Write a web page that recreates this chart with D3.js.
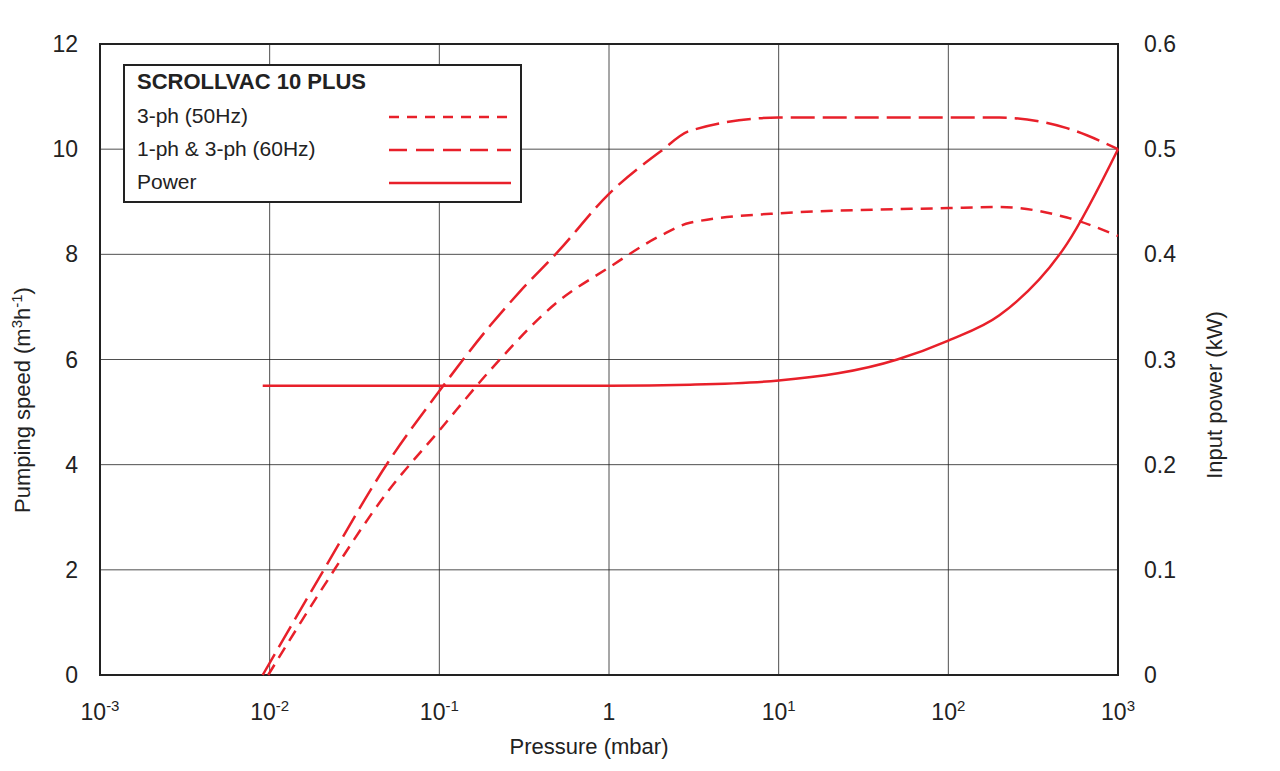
<!DOCTYPE html>
<html><head><meta charset="utf-8">
<script src="https://cdn.jsdelivr.net/npm/d3@7"></script>
<style>body{margin:0;background:#fff}text{font-family:"Liberation Sans",Arial,sans-serif;fill:#222}</style>
</head><body><svg id="c" width="1280" height="771"></svg>
<script>
const xTicks=[1e-3,1e-2,1e-1,1,10,100,1000];
const xTickLabels=[["10","-3"],["10","-2"],["10","-1"],["1",""],["10","1"],["10","2"],["10","3"]];
const yLeftTicks=[0,2,4,6,8,10,12];
const yRightTicks=[0,0.1,0.2,0.3,0.4,0.5,0.6];
const p60=[0.0091,0.02,0.05,0.1,0.2,0.3,0.5,1,2,3,10,100,200,500,1000];
const s60=[0,1.9,4.05,5.4,6.65,7.3,8.05,9.15,9.95,10.35,10.6,10.6,10.6,10.4,10.0];
const p50=[0.0098,0.02,0.05,0.1,0.2,0.5,1,2,3,10,100,200,500,1000];
const s50=[0,1.6,3.5,4.65,5.8,7.1,7.75,8.35,8.6,8.78,8.88,8.9,8.7,8.35];
const pPow=[0.0091,0.1,1,3,10,50,100,200,500,1000];
const vPow=[0.275,0.275,0.275,0.276,0.28,0.3,0.318,0.342,0.41,0.5];

const svg=d3.select("#c");
const L=100,R=1118,T=44,B=675,red="#e8202a";
const x=d3.scaleLog().domain([1e-3,1e3]).range([L,R]);
const y=d3.scaleLinear().domain([0,12]).range([B,T]);
const y2=d3.scaleLinear().domain([0,0.6]).range([B,T]);
const g=svg.append("g");
xTicks.slice(1,-1).forEach(t=>g.append("line").attr("x1",x(t)).attr("x2",x(t)).attr("y1",T).attr("y2",B).attr("stroke","#222").attr("stroke-width",0.8));
yLeftTicks.slice(1,-1).forEach(t=>g.append("line").attr("x1",L).attr("x2",R).attr("y1",y(t)).attr("y2",y(t)).attr("stroke","#222").attr("stroke-width",0.8));
g.append("rect").attr("x",L).attr("y",T).attr("width",R-L).attr("height",B-T).attr("fill","none").attr("stroke","#222").attr("stroke-width",2);
xTicks.forEach((t,i)=>{const tx=g.append("text").attr("x",x(t)).attr("y",B+45).attr("text-anchor","middle").attr("font-size",23);
 tx.append("tspan").text(xTickLabels[i][0]); if(xTickLabels[i][1]) tx.append("tspan").attr("dy",-9).attr("font-size",15).text(xTickLabels[i][1]);});
yLeftTicks.forEach(t=>g.append("text").attr("x",L-22).attr("y",y(t)+8).attr("text-anchor","end").attr("font-size",23).text(t));
yRightTicks.forEach(t=>g.append("text").attr("x",R+26).attr("y",y2(t)+8).attr("font-size",23).text(t===0?"0":t.toFixed(1)));
g.append("text").attr("x",(L+R)/2-20).attr("y",754).attr("text-anchor","middle").attr("font-size",22).text("Pressure (mbar)");
const yl=g.append("text").attr("transform","translate(30,400) rotate(-90)").attr("text-anchor","middle").attr("font-size",22);
yl.append("tspan").text("Pumping speed (m");yl.append("tspan").attr("dy",-8).attr("font-size",15).text("3");
yl.append("tspan").attr("dy",8).text("h");yl.append("tspan").attr("dy",-8).attr("font-size",15).text("-1");yl.append("tspan").attr("dy",8).text(")");
g.append("text").attr("transform","translate(1222,395) rotate(-90)").attr("text-anchor","middle").attr("font-size",22).text("Input power (kW)");
const line=(xs,ys,sc)=>d3.line().x(d=>x(d[0])).y(d=>sc(d[1])).curve(d3.curveMonotoneX)(xs.map((v,i)=>[v,ys[i]]));
g.append("path").attr("d",line(p60,s60,y)).attr("fill","none").attr("stroke",red).attr("stroke-width",2.5).attr("stroke-dasharray","24,8");
g.append("path").attr("d",line(p50,s50,y)).attr("fill","none").attr("stroke",red).attr("stroke-width",2.5).attr("stroke-dasharray","12,8");
g.append("path").attr("d",line(pPow,vPow,y2)).attr("fill","none").attr("stroke",red).attr("stroke-width",2.5);
const lg=g.append("g");
lg.append("rect").attr("x",124).attr("y",65).attr("width",397).attr("height",137).attr("fill","#fff").attr("stroke","#222").attr("stroke-width",2);
lg.append("text").attr("x",137).attr("y",89).attr("font-size",22).attr("font-weight","bold").text("SCROLLVAC 10 PLUS");
[["3-ph (50Hz)","10,8"],["1-ph & 3-ph (60Hz)","18,9"],["Power",null]].forEach((d,i)=>{
 const yy=123+i*33;
 lg.append("text").attr("x",137).attr("y",yy).attr("font-size",21).text(d[0]);
 lg.append("line").attr("x1",389).attr("x2",511).attr("y1",yy-6).attr("y2",yy-6).attr("stroke",red).attr("stroke-width",2.5).attr("stroke-dasharray",d[1]);
});
</script></body></html>
